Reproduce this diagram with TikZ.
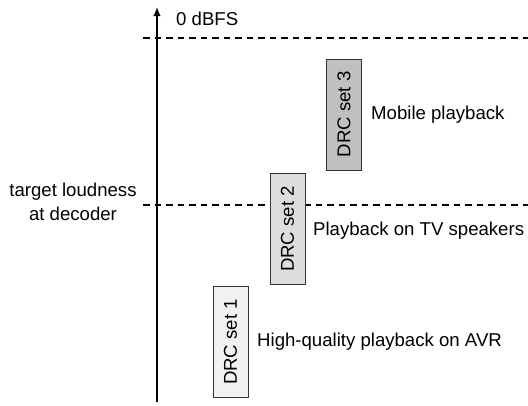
\documentclass[tikz,border=0pt]{standalone}
\usepackage{fontspec}
\setmainfont{Liberation Sans}
\usetikzlibrary{arrows.meta}
\definecolor{g3}{RGB}{192,192,192}
\definecolor{g2}{RGB}{221,221,221}
\definecolor{g1}{RGB}{242,242,242}
\begin{document}
\begin{tikzpicture}[x=1pt,y=-1pt,
  every node/.style={font=\fontsize{18.6}{24}\selectfont},
  drcbox/.style={draw=black!80, line width=0.9pt, rotate=90, minimum width=111pt, minimum height=35pt, inner sep=0pt},
  lbl/.style={anchor=west, inner sep=0pt},
  dline/.style={line width=1.1pt, dash pattern=on 6.5pt off 5pt}]
\useasboundingbox (0,0) rectangle (528,405);
\coordinate (ab) at (157,402);
\coordinate (at) at (157,7);
\draw[line width=1.4pt, -{Latex[length=9pt,width=7.5pt]}] (ab) -- (at);
\coordinate (d1a) at (143,38);
\coordinate (d1b) at (528,38);
\coordinate (d2a) at (143,205);
\coordinate (d2b) at (528,205);
\draw[dline] (d1a) -- (d1b);
\draw[dline] (d2a) -- (d2b);
\node[lbl] (zero) at (176,19) {0 dBFS};
\node[align=center, inner sep=0pt] (tl) at (73,202) {target loudness\\at decoder};
\node[drcbox, fill=g3] (b3) at (344,114.5) {DRC set 3};
\node[drcbox, fill=g2] (b2) at (287.5,229) {DRC set 2};
\node[drcbox, fill=g1] (b1) at (230.5,342) {DRC set 1};
\node[lbl] (l3) at (371,115) {Mobile playback};
\node[lbl] (l2) at (313,231) {Playback on TV speakers};
\node[lbl] (l1) at (257,342) {High-quality playback on AVR};
\end{tikzpicture}
\end{document}
